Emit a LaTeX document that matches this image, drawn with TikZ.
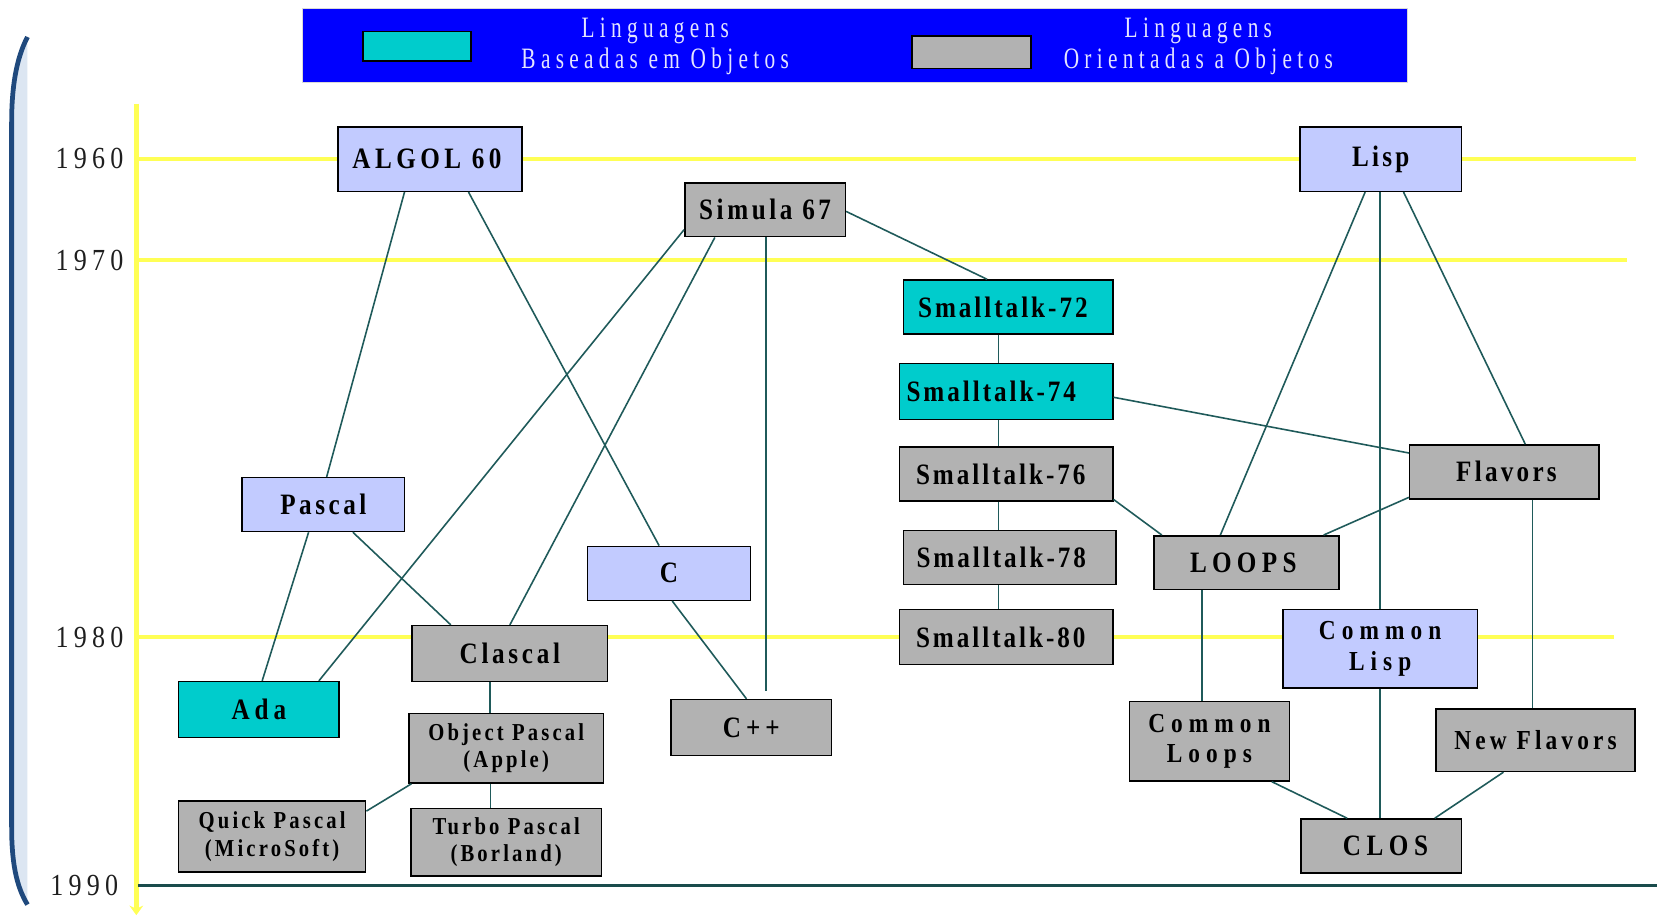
\documentclass[tikz,border=0pt]{standalone}
\usepackage{fontspec}
\setmainfont{Liberation Serif}
\newfontfamily\boxfont[FakeStretch=0.85]{Liberation Serif}
\newfontfamily\yearfont[FakeStretch=0.85]{Liberation Serif}
\newfontfamily\legfont[FakeStretch=0.72]{Liberation Serif}
\usetikzlibrary{calc,arrows.meta}

% label font: letter spacing, size, baseline skip
\newcommand\langfont[3]{\boxfont\bfseries\fontsize{#2}{#3}\selectfont\addfontfeature{LetterSpace=#1}}

\definecolor{objbased}{HTML}{00CCCC}
\definecolor{objoriented}{HTML}{B2B2B2}
\definecolor{procedural}{HTML}{C2CBFF}
\definecolor{legendblue}{HTML}{0000FF}
\definecolor{legendtext}{HTML}{E4E4FF}
\definecolor{timeline}{HTML}{FFFF55}
\definecolor{linkcol}{HTML}{1F5A5A}
\definecolor{framefill}{HTML}{DCE6F2}
\definecolor{frameline}{HTML}{1F497D}

\tikzset{
  langbox/.style={draw=black, line width=1.4pt, inner sep=0pt, align=center, text=black},
  proc/.style={langbox, fill=procedural},
  objb/.style={langbox, fill=objbased},
  objo/.style={langbox, fill=objoriented},
  link/.style={draw=linkcol, line width=1.5pt},
  yearline/.style={draw=timeline, line width=4pt},
  yearlabel/.style={anchor=east, inner sep=0pt, text=black!88,
    font=\yearfont\fontsize{29}{30}\selectfont\addfontfeature{LetterSpace=17}},
  legendlabel/.style={inner sep=0pt, align=center, text=legendtext,
    font=\legfont\fontsize{28}{30}\selectfont\addfontfeature{LetterSpace=18}},
  swatch/.style={draw=black, line width=1.6pt, inner sep=0pt, anchor=north west},
}

\begin{document}
\begin{tikzpicture}[x=1pt, y=-1pt]
\useasboundingbox (0,0) rectangle (1568,866);
\fill[white] (0,0) rectangle (1568,866);

% slide frame on the left
\fill[framefill] (26,35) .. controls (15,56) and (11,84) .. (11,116) -- (11,782)
  .. controls (11,815) and (15,838) .. (26,856) -- cycle;
\draw[frameline, line width=4.5pt] (26,35) .. controls (15,56) and (11,84) .. (11,116)
  -- (11,782) .. controls (11,815) and (15,838) .. (26,856);

% legend
\node[fill=legendblue, draw=black!15, line width=0.8pt, minimum width=1045, minimum height=70,
  inner sep=0pt, anchor=north west] (legend) at (286,8) {};
\node[swatch, fill=objbased, minimum width=102, minimum height=28] (swobj) at (343,29) {};
\node[swatch, fill=objoriented, minimum width=113, minimum height=31] (swoo) at (862,33) {};
\node[legendlabel] (lgobj) at (620,44) {Linguagens\\Baseadas em Objetos};
\node[legendlabel] (lgoo) at (1134,44) {Linguagens\\Orientadas a Objetos};

% time axis
\draw[timeline, line width=5pt, -{Stealth[length=9pt, width=13pt]}] (129,98) -- (129,866);
\draw[yearline] (129,150.5) -- (1548,150.5);
\draw[yearline] (129,246) -- (1540,246);
\draw[yearline] (129,603) -- (1527,603);
\draw[draw=linkcol!85!black, line width=3.5pt] (131,838) -- (1568,838);

\node[yearlabel] (y1960) at (117,150) {1960};
\node[yearlabel] (y1970) at (117,246) {1970};
\node[yearlabel] (y1980) at (117,603) {1980};
\node[yearlabel] (y1990) at (112,838) {1990};

% languages
\node[proc, minimum width=174, minimum height=61, font=\langfont{15}{28}{30}] (algol) at (407,150.5) {\hspace*{-6pt}ALGOL 60};
\node[objo, minimum width=152, minimum height=51, font=\langfont{12}{28}{30}] (simula) at (724,198.5) {Simula 67};
\node[proc, minimum width=153, minimum height=61, font=\langfont{11}{28}{30}] (lisp) at (1306.5,150.5) {Lisp};
\node[objb, minimum width=198, minimum height=51, font=\langfont{10}{28}{30}] (st72) at (954,290.5) {\hspace*{-10pt}Smalltalk-72};
\node[objb, minimum width=202, minimum height=53, font=\langfont{10}{28}{30}] (st74) at (952,370.5) {\hspace*{-28pt}Smalltalk-74};
\node[objo, minimum width=202, minimum height=51, font=\langfont{10}{28}{30}] (st76) at (952,448.5) {\hspace*{-10pt}Smalltalk-76};
\node[objo, minimum width=201, minimum height=51, font=\langfont{10}{28}{30}] (st78) at (955.5,527.5) {\hspace*{-16pt}Smalltalk-78};
\node[objo, minimum width=202, minimum height=52, font=\langfont{10}{28}{30}] (st80) at (952,603) {\hspace*{-10pt}Smalltalk-80};
\node[proc, minimum width=154, minimum height=51, font=\langfont{12}{28}{30}] (pascal) at (306,477.5) {Pascal};
\node[proc, minimum width=154, minimum height=51, font=\langfont{12}{28}{30}] (c) at (633,542.5) {C};
\node[objo, minimum width=185, minimum height=53, font=\langfont{12.5}{28}{30}] (clascal) at (482.5,618.5) {Clascal};
\node[objb, minimum width=152, minimum height=53, font=\langfont{17}{28}{30}] (ada) at (245,671.5) {Ada};
\node[objo, minimum width=184, minimum height=66, font=\langfont{13}{23}{26}] (objpascal) at (479,708) {Object Pascal\\(Apple)};
\node[objo, minimum width=152, minimum height=53, font=\langfont{17}{28}{30}] (cpp) at (711,688.5) {C++};
\node[objo, minimum width=177, minimum height=67, font=\langfont{13}{23}{26}] (quick) at (257.5,791.5) {Quick Pascal\\(MicroSoft)};
\node[objo, minimum width=180, minimum height=64, font=\langfont{13}{23}{26}] (turbo) at (479,797) {Turbo Pascal\\(Borland)};
\node[objo, minimum width=179, minimum height=51, font=\langfont{11}{28}{30}] (flavors) at (1423.5,446.5) {\hspace*{4pt}Flavors};
\node[objo, minimum width=175, minimum height=51, font=\langfont{18}{28}{30}] (loops) at (1179.5,532.5) {\hspace*{-6pt}LOOPS};
\node[proc, minimum width=184, minimum height=74, font=\langfont{22}{26}{30}] (clisp) at (1306,614) {Common\\Lisp};
\node[objo, minimum width=151, minimum height=75, font=\langfont{22}{26}{29}] (cloops) at (1144.5,701.5) {Common\\Loops};
\node[objo, minimum width=188, minimum height=59, font=\langfont{15}{26}{30}] (newfl) at (1453,700.5) {New Flavors};
\node[objo, minimum width=152, minimum height=51, font=\langfont{19}{28}{30}] (clos) at (1307,800.5) {\hspace*{8pt}CLOS};

% vertical connector points
\path ($(simula.south west)!0.507!(simula.south east)$) coordinate (vsim);
\path ($(clascal.south west)!0.40!(clascal.south east)$) coordinate (vclas);
\path ($(objpascal.south west)!0.42!(objpascal.south east)$) coordinate (vobj);
\path ($(st72.south west)!0.455!(st72.south east)$) coordinate (vst);
\path ($(lisp.south west)!0.497!(lisp.south east)$) coordinate (vlisp);
\path ($(loops.south west)!0.263!(loops.south east)$) coordinate (vloops);
\path ($(flavors.south west)!0.648!(flavors.south east)$) coordinate (vflav);

% connectors
\draw[link] ($(algol.south west)!0.362!(algol.south east)$) -- ($(pascal.north west)!0.52!(pascal.north east)$);
\draw[link] ($(algol.south west)!0.707!(algol.south east)$) -- ($(c.north west)!0.44!(c.north east)$);
\draw[link] ($(simula.north west)!0.86!(simula.south west)$) -- ($(ada.north west)!0.87!(ada.north east)$);
\draw[link] ($(simula.south west)!0.19!(simula.south east)$) -- ($(clascal.north west)!0.50!(clascal.north east)$);
\draw[link, shorten >=7pt] (vsim) -- (vsim |- cpp.north);
\draw[link] ($(simula.north east)!0.53!(simula.south east)$) -- ($(st72.north west)!0.40!(st72.north east)$);
\draw[link] ($(pascal.south west)!0.41!(pascal.south east)$) -- ($(ada.north west)!0.52!(ada.north east)$);
\draw[link] ($(pascal.south west)!0.68!(pascal.south east)$) -- ($(clascal.north west)!0.20!(clascal.north east)$);
\draw[link] ($(c.south west)!0.52!(c.south east)$) -- ($(cpp.north west)!0.47!(cpp.north east)$);
\draw[link] (vclas) -- (vclas |- objpascal.north);
\draw[link] ($(objpascal.south west)+(3,0)$) -- ($(quick.north east)!0.15!(quick.south east)$);
\draw[link] (vobj) -- (vobj |- turbo.north);
\draw[link] (vst) -- (vst |- st74.north);
\draw[link] (vst |- st74.south) -- (vst |- st76.north);
\draw[link] (vst |- st76.south) -- (vst |- st78.north);
\draw[link] (vst |- st78.south) -- (vst |- st80.north);
\draw[link] ($(st74.north east)!0.6!(st74.south east)$) -- ($(flavors.north west)!0.16!(flavors.south west)$);
\draw[link] ($(st76.north east)!0.96!(st76.south east)$) -- ($(loops.north west)!0.046!(loops.north east)$);
\draw[link] ($(lisp.south west)!0.405!(lisp.south east)$) -- ($(loops.north west)!0.36!(loops.north east)$);
\draw[link] (vlisp) -- (vlisp |- clisp.north);
\draw[link] ($(lisp.south west)!0.64!(lisp.south east)$) -- ($(flavors.north west)!0.61!(flavors.north east)$);
\draw[link] ($(flavors.north west)!0.96!(flavors.south west)$) -- ($(loops.north west)!0.914!(loops.north east)$);
\draw[link] (vloops) -- (vloops |- cloops.north);
\draw[link] (vflav) -- (vflav |- newfl.north);
\draw[link] (vlisp |- clisp.south) -- (vlisp |- clos.north);
\draw[link] ($(cloops.south west)!0.887!(cloops.south east)$) -- ($(clos.north west)!0.29!(clos.north east)$);
\draw[link] ($(newfl.south west)!0.34!(newfl.south east)$) -- ($(clos.north west)!0.83!(clos.north east)$);
\end{tikzpicture}
\end{document}
